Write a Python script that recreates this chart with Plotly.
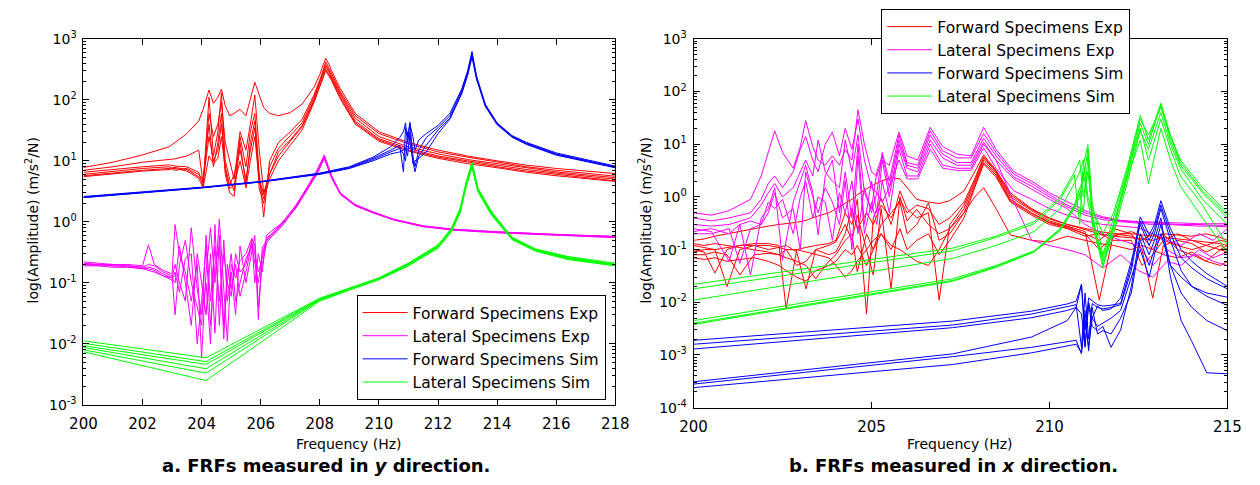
import plotly.graph_objects as go

# ================= (a) FRFs measured in y direction =================
A_FREQ_FWD_EXP = [200, 201, 202, 202.9, 203.1, 203.5, 203.9, 204.05, 204.25, 204.4,
                  204.55, 204.67, 204.8, 204.95, 205.1, 205.3, 205.5, 205.65, 205.8, 205.95,
                  206.1, 206.3, 206.6, 207.0, 207.4, 207.8, 208.0, 208.1, 208.2, 208.3,
                  208.4, 208.7, 209.2, 210, 211, 212, 213, 214, 215, 216, 217, 218]
A_FWD_EXP = [
    [7.8, 9.5, 12.5, 17, 20, 28, 45, 70, 145, 88, 110, 150, 80, 55, 60, 70, 55, 100, 195, 120,
     75, 60, 55, 62, 85, 160, 260, 360, 480, 390, 300, 150, 60, 30, 20, 15, 12, 10, 8.5, 7.5, 6.8, 6.2],
    [7.0, 8.0, 9.5, 10.5, 10.8, 12, 15, 4.3, 60, 25, 40, 90, 20, 10, 5, 30, 15, 40, 120, 15,
     3, 6, 14, 22, 38, 100, 200, 300, 420, 340, 270, 135, 55, 28, 19, 14, 11.5, 9.5, 8, 7, 6.2, 5.6],
    [6.5, 7.3, 8.0, 8.6, 8.2, 8.0, 6.5, 3.8, 110, 12, 30, 130, 10, 5, 3.2, 25, 8, 30, 60, 6,
     1.2, 10, 20, 30, 48, 120, 220, 290, 380, 310, 250, 125, 50, 25, 17, 13, 10.5, 9, 7.6, 6.6, 5.9, 5.3],
    [6.0, 6.8, 7.5, 8.0, 7.0, 7.5, 6, 5, 40, 8, 20, 60, 6, 3, 2.6, 20, 4, 20, 45, 3.5,
     2, 8, 16, 26, 42, 110, 200, 270, 350, 290, 235, 118, 45, 23, 16, 12, 10, 8.5, 7.2, 6.3, 5.6, 5.0],
    [5.7, 6.4, 7.0, 7.5, 7.8, 7.2, 5.5, 4.5, 25, 10, 15, 40, 8, 4, 6, 15, 5, 15, 35, 5,
     2.8, 6, 12, 21, 36, 95, 180, 250, 320, 265, 215, 108, 42, 22, 15, 11.5, 9.5, 8, 6.8, 6.0, 5.3, 4.7],
    [5.5, 6.2, 6.8, 7.2, 7.5, 6.8, 5.2, 3.6, 12, 9, 11, 25, 7, 3.5, 4, 10, 3.6, 10, 25, 4.5,
     2.4, 5, 10, 18, 32, 90, 170, 230, 300, 250, 205, 102, 40, 21, 14.5, 11, 9, 7.7, 6.5, 5.7, 5.1, 4.6],
]

A_FREQ_LAT_EXP = [200, 200.5, 201, 201.5, 202, 202.2, 202.4, 202.7, 203.0, 203.1,
                  203.25, 203.45, 203.65, 203.85, 204.0, 204.15, 204.3, 204.45, 204.6, 204.75,
                  204.87, 205.0, 205.15, 205.3, 205.5, 205.7, 205.8, 205.92, 206.05, 206.2,
                  206.5, 206.8, 207.2, 207.6, 207.9, 208.15, 208.4, 208.7, 209.2, 209.8,
                  210.5, 211.5, 212.5, 214, 216, 218]
A_LAT_EXP = [
    [0.22, 0.21, 0.2, 0.2, 0.19, 0.42, 0.2, 0.16, 0.14, 0.9, 0.3, 0.15, 0.05, 0.2, 0.006,
     0.15, 0.8, 0.1, 1.1, 0.08, 0.011, 0.2, 0.12, 0.23, 0.3, 0.54, 0.4, 0.025, 0.37, 0.5,
     0.75, 1.07, 1.87, 3.8, 6.5, 12, 5.5, 2.9, 1.9, 1.45, 1.1, 0.85, 0.75, 0.68, 0.62, 0.57],
    [0.21, 0.2, 0.2, 0.19, 0.18, 0.2, 0.19, 0.15, 0.13, 0.03, 0.2, 0.5, 0.1, 0.04, 0.02,
     0.6, 0.05, 0.4, 0.05, 0.3, 0.1, 0.06, 0.3, 0.15, 0.2, 0.5, 0.1, 0.3, 0.15, 0.6,
     0.8, 1.0, 1.7, 3.5, 6, 11, 5.3, 2.85, 1.85, 1.42, 1.08, 0.84, 0.74, 0.67, 0.61, 0.56],
    [0.2, 0.2, 0.19, 0.19, 0.18, 0.18, 0.17, 0.14, 0.12, 0.2, 0.1, 0.05, 0.8, 0.08, 0.03,
     0.1, 0.01, 0.9, 0.02, 0.5, 0.05, 0.15, 0.03, 0.4, 0.1, 0.35, 0.6, 0.04, 0.2, 0.45,
     0.7, 1.1, 1.9, 3.9, 7, 12.5, 5.7, 2.95, 1.92, 1.46, 1.1, 0.86, 0.76, 0.69, 0.62, 0.58],
    [0.2, 0.19, 0.19, 0.18, 0.17, 0.17, 0.16, 0.13, 0.12, 0.1, 0.4, 0.1, 0.02, 0.3, 0.1,
     0.03, 0.3, 0.015, 0.6, 0.02, 0.1, 0.3, 0.05, 0.1, 0.25, 0.4, 0.2, 0.1, 0.3, 0.5,
     0.65, 0.95, 1.8, 3.6, 6.2, 11.5, 5.4, 2.88, 1.88, 1.43, 1.09, 0.85, 0.75, 0.68, 0.61, 0.57],
    [0.19, 0.19, 0.18, 0.18, 0.17, 0.16, 0.15, 0.13, 0.11, 0.15, 0.07, 0.25, 0.3, 0.01, 0.05,
     0.4, 0.02, 0.2, 0.4, 0.012, 0.2, 0.08, 0.2, 0.06, 0.15, 0.45, 0.3, 0.15, 0.25, 0.55,
     0.7, 1.0, 1.75, 3.7, 6.3, 11, 5.2, 2.8, 1.82, 1.4, 1.07, 0.83, 0.73, 0.66, 0.6, 0.55],
]

A_FREQ_FWD_SIM = [200, 202, 204, 206, 208, 209, 209.8, 210.4, 210.7, 210.83,
                  210.9, 210.97, 211.05, 211.15, 211.22, 211.35, 211.6, 212, 212.4, 212.8,
                  213.0, 213.15, 213.3, 213.6, 214, 214.5, 215, 216, 217, 218]
A_FWD_SIM = [
    [2.6, 3.1, 3.7, 4.6, 6.3, 8, 11.5, 17, 24, 30, 42, 20, 40, 25, 15,
     22, 28, 38, 60, 150, 300, 620, 250, 85, 42, 26, 20, 13.5, 10.5, 8.2],
    [2.55, 3.05, 3.65, 4.55, 6.2, 7.8, 11, 15, 18, 6.6, 35, 25, 43, 12, 8,
     15, 24, 35, 55, 140, 280, 580, 240, 82, 41, 25.5, 19.5, 13, 10.2, 8.0],
    [2.5, 3.0, 3.6, 4.5, 6.1, 7.6, 10.5, 14, 16, 13, 10, 30, 20, 10, 6.6,
     12, 18, 32, 50, 130, 260, 540, 230, 80, 40, 25, 19, 12.7, 10, 7.8],
    [2.5, 3.0, 3.6, 4.5, 6.0, 7.5, 10, 13, 14, 15, 16, 12, 30, 9, 10,
     11, 14, 28, 48, 125, 250, 500, 220, 78, 39, 24.5, 18.5, 12.4, 9.8, 7.7],
]

A_FREQ_LAT_SIM = [200, 204.15, 208, 209, 210, 211, 212, 212.45, 212.75, 212.95,
                  213.15, 213.35, 213.8, 214.5, 215.3, 216.4, 218]
A_LAT_SIM = [
    [0.0112, 0.0059, 0.056, 0.082, 0.12, 0.21, 0.42, 0.78, 1.7, 4.5, 9.5, 3.6, 1.5, 0.56, 0.36, 0.27, 0.21],
    [0.0102, 0.0051, 0.055, 0.081, 0.12, 0.21, 0.41, 0.76, 1.6, 4.3, 9.0, 3.5, 1.45, 0.55, 0.35, 0.26, 0.2],
    [0.0093, 0.0046, 0.054, 0.08, 0.118, 0.2, 0.4, 0.74, 1.55, 4.1, 8.6, 3.4, 1.4, 0.54, 0.35, 0.26, 0.2],
    [0.0087, 0.0039, 0.053, 0.079, 0.117, 0.2, 0.39, 0.72, 1.5, 4.0, 8.3, 3.3, 1.38, 0.53, 0.34, 0.25, 0.2],
    [0.0080, 0.0033, 0.052, 0.078, 0.115, 0.19, 0.38, 0.7, 1.45, 3.9, 8.0, 3.2, 1.35, 0.52, 0.34, 0.25, 0.19],
    [0.0074, 0.0025, 0.05, 0.076, 0.112, 0.19, 0.37, 0.68, 1.4, 3.8, 7.8, 3.1, 1.3, 0.51, 0.33, 0.24, 0.19],
]

# ================= (b) FRFs measured in x direction =================
B_FREQ_FWD_EXP = [200, 200.3, 200.6, 200.94, 201.3, 201.7, 202.1, 202.4, 202.6, 202.9,
                  203.16, 203.43, 203.8, 204.0, 204.26, 204.45, 204.6, 204.86, 205.05, 205.27,
                  205.55, 205.8, 206.0, 206.27, 206.6, 206.9, 207.2, 207.6, 207.9, 208.15,
                  208.5, 208.9, 209.5, 210.0, 210.5, 211.0, 211.4, 211.8, 212.3, 212.6,
                  212.9, 213.2, 213.6, 214.0, 214.4, 214.8, 215]
B_FWD_EXP = [
    [0.15, 0.16, 0.18, 0.2, 0.22, 0.25, 0.28, 0.3, 0.31, 0.33, 0.36, 0.42, 0.5, 0.6, 0.75,
     0.9, 1.1, 1.4, 1.7, 2.0, 2.3, 2.2, 1.5, 0.9, 0.8, 0.75, 0.85, 1.3, 3, 6.3,
     3.2, 1.2, 0.6, 0.4, 0.3, 0.25, 0.22, 0.2, 0.2, 0.19, 0.18, 0.2, 0.19, 0.18, 0.2, 0.17, 0.15],
    [0.1, 0.09, 0.036, 0.1, 0.12, 0.13, 0.13, 0.12, 0.0076, 0.1, 0.11, 0.12, 0.13, 0.15, 0.5,
     0.3, 0.9, 0.006, 0.4, 0.95, 0.3, 1.3, 0.6, 0.4, 0.5, 0.011, 0.3, 0.7, 2, 5.5,
     3, 1.0, 0.55, 0.35, 0.28, 0.22, 0.011, 0.2, 0.18, 0.15, 0.2, 0.15, 0.12, 0.1, 0.12, 0.1, 0.09],
    [0.12, 0.11, 0.1, 0.02, 0.1, 0.12, 0.1, 0.11, 0.12, 0.09, 0.018, 0.1, 0.12, 0.14, 0.3,
     0.15, 0.45, 0.1, 0.033, 0.6, 0.018, 1.0, 0.35, 0.58, 0.3, 0.2, 0.25, 0.6, 1.8, 5,
     2.8, 0.9, 0.5, 0.33, 0.27, 0.2, 0.15, 0.25, 0.2, 0.1, 0.012, 0.12, 0.15, 0.13, 0.09, 0.12, 0.1],
    [0.08, 0.08, 0.09, 0.08, 0.033, 0.08, 0.085, 0.08, 0.07, 0.06, 0.05, 0.028, 0.06, 0.08, 0.15,
     0.2, 0.038, 0.2, 0.1, 0.3, 0.5, 0.8, 0.2, 0.3, 0.77, 0.15, 0.2, 0.5, 1.6, 4.5,
     2.6, 0.85, 0.48, 0.32, 0.26, 0.2, 0.1, 0.18, 0.22, 0.18, 0.1, 0.2, 0.1, 0.08, 0.06, 0.1, 0.12],
    [0.07, 0.065, 0.07, 0.06, 0.065, 0.07, 0.06, 0.05, 0.04, 0.03, 0.025, 0.04, 0.05, 0.06, 0.1,
     0.08, 0.12, 0.05, 0.1, 0.2, 0.1, 0.25, 0.1, 0.15, 0.2, 0.08, 0.15, 0.4, 1.5, 4.2,
     2.4, 0.8, 0.45, 0.3, 0.25, 0.18, 0.2, 0.15, 0.15, 0.05, 0.08, 0.15, 0.2, 0.15, 0.12, 0.15, 0.14],
    [0.09, 0.1, 0.1, 0.11, 0.12, 0.12, 0.12, 0.11, 0.1, 0.1, 0.09, 0.08, 0.07, 0.05, 0.03,
     0.04, 0.06, 0.1, 0.15, 0.2, 0.12, 0.1, 0.08, 0.06, 0.05, 0.1, 0.25, 0.5, 1.0, 1.5,
     0.6, 0.19, 0.15, 0.14, 0.18, 0.15, 0.13, 0.12, 0.1, 0.12, 0.1, 0.08, 0.07, 0.09, 0.06, 0.05, 0.06],
    [0.13, 0.12, 0.13, 0.12, 0.11, 0.1, 0.09, 0.08, 0.1, 0.05, 0.06, 0.1, 0.08, 0.09, 0.2,
     0.6, 0.25, 0.5, 0.3, 0.7, 0.4, 0.9, 0.5, 0.7, 0.6, 0.3, 0.4, 0.8, 2.2, 5.8,
     3.1, 1.1, 0.58, 0.38, 0.3, 0.24, 0.2, 0.18, 0.17, 0.16, 0.15, 0.17, 0.16, 0.15, 0.14, 0.13, 0.12],
]

B_FREQ_LAT_EXP = [200, 200.5, 201.0, 201.3, 201.6, 201.9, 202.1, 202.28, 202.5, 202.8,
                  203.0, 203.15, 203.35, 203.5, 203.7, 203.9, 204.1, 204.26, 204.45, 204.62,
                  204.8, 205.0, 205.15, 205.3, 205.5, 205.77, 206.0, 206.3, 206.65, 207.0,
                  207.4, 207.8, 208.15, 208.5, 209.0, 209.5, 210.0, 210.5, 211.0, 211.5,
                  212.0, 212.5, 212.9, 213.3, 213.7, 214.2, 214.6, 215]
B_LAT_EXP = [
    [0.5, 0.45, 0.55, 0.7, 0.9, 2.5, 7, 18, 7, 3.5, 9, 28, 9, 5, 4, 6, 4, 8, 5, 45,
     10, 3, 2.5, 5, 4, 17, 6, 5, 21, 9, 6.5, 6, 21, 8, 3, 2, 1.2, 0.8, 0.55, 0.42,
     0.36, 0.34, 0.33, 0.32, 0.32, 0.31, 0.31, 0.31],
    [0.4, 0.35, 0.4, 0.45, 0.5, 0.9, 1.8, 2.5, 1.5, 3, 8, 14, 5, 3, 10, 17, 6, 20, 8, 30,
     5, 1.5, 1.2, 7, 2, 15, 4.5, 4, 18, 7.5, 5.5, 5.5, 16, 7, 2.7, 1.8, 1.1, 0.7, 0.5, 0.4,
     0.35, 0.33, 0.32, 0.31, 0.3, 0.3, 0.29, 0.29],
    [0.3, 0.28, 0.3, 0.35, 0.4, 0.7, 1.2, 1.8, 1.0, 1.5, 3, 5, 2.5, 12, 3, 2, 1.5, 12, 3, 15,
     1.2, 0.6, 3, 6, 1.5, 12, 4, 3.5, 15, 6.5, 4.5, 4.5, 13, 6, 2.4, 1.6, 1.0, 0.65, 0.45, 0.37,
     0.34, 0.32, 0.3, 0.3, 0.29, 0.28, 0.28, 0.27],
    [0.25, 0.22, 0.06, 0.3, 0.033, 0.4, 0.6, 1.5, 0.063, 0.8, 2, 4, 1.2, 0.19, 2.5, 5, 0.5, 3, 0.4, 10,
     0.3, 2, 0.5, 5, 1.0, 10, 3.5, 3, 12, 5.5, 4, 4, 11, 5, 2.2, 1.4, 0.9, 0.6, 0.3, 0.2,
     0.15, 0.12, 0.05, 0.1, 0.07, 0.08, 0.06, 0.05],
    [0.2, 0.2, 0.25, 0.055, 0.25, 0.3, 0.5, 1.2, 0.4, 0.6, 0.1, 3, 1, 0.5, 1.5, 0.8, 0.3, 2, 0.1, 6,
     0.2, 0.8, 0.3, 2, 0.5, 8, 2.5, 2.5, 10, 4, 3.5, 3.5, 10, 5, 0.8, 0.15, 0.12, 0.1, 0.08, 0.045,
     0.08, 0.04, 0.03, 0.06, 0.05, 0.1, 0.07, 0.09],
    [0.22, 0.25, 0.2, 0.3, 0.35, 0.3, 0.8, 0.6, 0.9, 0.2, 1.0, 2, 0.4, 1, 0.8, 0.15, 1.2, 0.5, 2, 0.2,
     1.5, 0.5, 1.2, 0.8, 1.5, 5, 2.2, 2.2, 8, 3.5, 3.2, 3.2, 8.5, 3.5, 1.3, 0.9, 0.6, 0.45, 0.35, 0.3,
     0.28, 0.26, 0.2, 0.15, 0.12, 0.2, 0.15, 0.25],
]

B_FREQ_FWD_SIM = [200, 207.28, 209.5, 210.5, 210.75, 210.9, 211.0, 211.1, 211.2, 211.35,
                  211.5, 211.73, 212.0, 212.3, 212.55, 212.8, 212.95, 213.13, 213.4, 213.7,
                  214.0, 214.42, 215]
B_FWD_SIM = [
    [0.0019, 0.0044, 0.0068, 0.0093, 0.0105, 0.022, 0.003, 0.012, 0.0107, 0.009,
     0.0085, 0.0088, 0.0095, 0.05, 0.42, 0.19, 0.3, 0.85, 0.25, 0.1, 0.06, 0.035, 0.02],
    [0.0016, 0.0037, 0.006, 0.0083, 0.009, 0.0014, 0.015, 0.002, 0.0095, 0.008,
     0.0075, 0.008, 0.009, 0.04, 0.35, 0.15, 0.25, 0.7, 0.2, 0.07, 0.045, 0.028, 0.018],
    [0.0013, 0.0033, 0.0051, 0.007, 0.008, 0.006, 0.0014, 0.01, 0.005, 0.0085,
     0.007, 0.0075, 0.012, 0.06, 0.3, 0.12, 0.2, 0.6, 0.15, 0.04, 0.02, 0.013, 0.0087],
    [0.00031, 0.00105, 0.0022, 0.0045, 0.008, 0.022, 0.0015, 0.009, 0.0035, 0.0029,
     0.0035, 0.0014, 0.003, 0.02, 0.2, 0.08, 0.15, 0.4, 0.03, 0.0045, 0.0018, 0.00046, 0.00044],
    [0.00028, 0.00093, 0.0014, 0.0018, 0.0019, 0.00105, 0.007, 0.0012, 0.008, 0.0025,
     0.0029, 0.0025, 0.005, 0.015, 0.15, 0.05, 0.1, 0.3, 0.05, 0.015, 0.008, 0.0045, 0.0029],
    [0.00024, 0.00066, 0.0011, 0.0015, 0.0016, 0.0011, 0.0045, 0.0014, 0.005, 0.0035,
     0.004, 0.005, 0.007, 0.03, 0.1, 0.03, 0.08, 0.2, 0.05, 0.03, 0.02, 0.015, 0.0125],
]

B_FREQ_LAT_SIM = [200, 207.28, 208.5, 209.57, 210.3, 210.7, 210.85, 210.95, 211.08, 211.2,
                  211.5, 211.8, 212.2, 212.55, 212.78, 213.13, 213.4, 213.68, 214.3, 215]
B_LAT_SIM = [
    [0.022, 0.107, 0.18, 0.34, 1.0, 3, 5, 1, 3, 0.6, 0.2, 0.5, 4, 35, 12, 60, 15, 5, 1.5, 0.5],
    [0.018, 0.095, 0.17, 0.31, 0.9, 2.6, 0.3, 4, 9.8, 0.8, 0.08, 0.4, 3.5, 30, 15, 50, 14, 4.5, 1.3, 0.45],
    [0.011, 0.068, 0.12, 0.22, 0.6, 1.8, 3, 5, 1, 0.5, 0.045, 0.3, 3, 25, 10, 55, 12, 4, 1.2, 0.4],
    [0.0045, 0.028, 0.05, 0.095, 0.25, 0.7, 1.5, 2, 8, 0.4, 0.06, 0.25, 2.5, 12, 1.8, 20, 5, 1.6, 0.4, 0.09],
    [0.0040, 0.026, 0.048, 0.092, 0.24, 0.65, 1.2, 0.5, 6, 0.3, 0.05, 0.2, 2, 18, 8, 40, 10, 3.5, 0.9, 0.3],
    [0.0038, 0.025, 0.046, 0.09, 0.23, 0.6, 1, 3, 0.8, 0.35, 0.07, 0.3, 2.8, 20, 5, 30, 8, 2.5, 0.7, 0.12],
]

SERIES_NAMES = ["Forward Specimens Exp", "Lateral Specimens Exp",
                "Forward Specimens Sim", "Lateral Specimens Sim"]
SERIES_COLORS = ["#FF0000", "#FF00FF", "#0000FF", "#00FF00"]

X_TICKS_A = [200, 202, 204, 206, 208, 210, 212, 214, 216, 218]
X_TICKS_B = [200, 205, 210, 215]
Y_EXP_A = [-3, -2, -1, 0, 1, 2, 3]
Y_EXP_B = [-4, -3, -2, -1, 0, 1, 2, 3]
MINOR_MANTISSAS = [2, 3, 4, 5, 6, 7, 8, 9]

CAPTION_A = "a. FRFs measured in <i>y</i> direction."
CAPTION_B = "b. FRFs measured in <i>x</i> direction."

W, H = 1260, 485
FONT = "DejaVu Sans"

fig = go.Figure()


def add_group(freq, curves, idx, xa, ya, legend):
    for i, c in enumerate(curves):
        fig.add_trace(go.Scatter(
            x=freq, y=c, mode="lines",
            line=dict(color=SERIES_COLORS[idx], width=1),
            name=SERIES_NAMES[idx], showlegend=(i == 0), legend=legend,
            xaxis=xa, yaxis=ya, hoverinfo="skip"))


groups_a = [(A_FREQ_FWD_EXP, A_FWD_EXP), (A_FREQ_LAT_EXP, A_LAT_EXP),
            (A_FREQ_FWD_SIM, A_FWD_SIM), (A_FREQ_LAT_SIM, A_LAT_SIM)]
groups_b = [(B_FREQ_FWD_EXP, B_FWD_EXP), (B_FREQ_LAT_EXP, B_LAT_EXP),
            (B_FREQ_FWD_SIM, B_FWD_SIM), (B_FREQ_LAT_SIM, B_LAT_SIM)]
for k, (f, cs) in enumerate(groups_a):
    add_group(f, cs, k, "x", "y", "legend")
for k, (f, cs) in enumerate(groups_b):
    add_group(f, cs, k, "x2", "y2", "legend2")


def ylog_axis(exps, domain, anchor):
    lo, hi = exps[0], exps[-1]
    return dict(
        type="log", range=[lo, hi], domain=domain, anchor=anchor,
        tickmode="array", tickvals=[10.0 ** e for e in exps],
        ticktext=["10<sup>%d</sup>" % e for e in exps],
        ticks="inside", ticklen=6, tickcolor="black", tickwidth=1,
        minor=dict(tickmode="array",
                   tickvals=[m * 10.0 ** e for e in range(lo, hi) for m in MINOR_MANTISSAS],
                   ticks="inside", ticklen=3, tickcolor="black", showgrid=False),
        showline=True, linecolor="black", linewidth=1, mirror="ticks",
        showgrid=False, zeroline=False,
        tickfont=dict(family=FONT, size=14, color="black"),
        ticklabelstandoff=3)


def x_axis(rng, ticks, domain, anchor):
    return dict(
        range=rng, domain=domain, anchor=anchor,
        tickmode="array", tickvals=ticks, ticktext=[str(t) for t in ticks],
        ticks="inside", ticklen=6, tickcolor="black", tickwidth=1,
        showline=True, linecolor="black", linewidth=1, mirror="ticks",
        showgrid=False, zeroline=False,
        tickfont=dict(family=FONT, size=15, color="black"),
        ticklabelstandoff=5)


legend_common = dict(bgcolor="white", bordercolor="black", borderwidth=1,
                     font=dict(family=FONT, size=15.5, color="black"),
                     traceorder="normal", tracegroupgap=0, itemwidth=45)

fig.update_layout(
    width=W, height=H, margin=dict(l=0, r=0, t=0, b=0),
    paper_bgcolor="white", plot_bgcolor="white",
    xaxis=x_axis([200, 218], X_TICKS_A, [71 / W, 615 / W], "y"),
    yaxis=ylog_axis(Y_EXP_A, [1 - 410 / H, 1 - 30 / H], "x"),
    xaxis2=x_axis([200, 215], X_TICKS_B, [695 / W, 1241 / W], "y2"),
    yaxis2=ylog_axis(Y_EXP_B, [1 - 413 / H, 1 - 30 / H], "x2"),
    legend=dict(x=605 / W, xanchor="right", y=1 - 405 / H, yanchor="bottom", **legend_common),
    legend2=dict(x=887 / W, xanchor="left", y=1 + 1 / H, yanchor="top", **legend_common),
    showlegend=True,
)

ann_font = dict(family=FONT, size=14, color="black")
annotations = [
    dict(text="Frequency (Hz)", x=343 / W, y=1 - 451 / H),
    dict(text="Frequency (Hz)", x=968 / W, y=1 - 451 / H),
    dict(text="log(Amplitude) (m/s<sup>2</sup>/N)", x=18 / W, y=1 - 219 / H, textangle=-90),
    dict(text="log(Amplitude) (m/s<sup>2</sup>/N)", x=645 / W, y=1 - 219 / H, textangle=-90),
]
for a in annotations:
    fig.add_annotation(xref="paper", yref="paper", showarrow=False,
                       xanchor="center", yanchor="middle", font=ann_font, **a)
for text, xc in [(CAPTION_A, 319), (CAPTION_B, 961)]:
    fig.add_annotation(text="<b>" + text + "</b>", xref="paper", yref="paper",
                       x=xc / W, y=1 - 473 / H, showarrow=False,
                       xanchor="center", yanchor="middle",
                       font=dict(family=FONT, size=18, color="black"))

fig.write_html("out.html")
